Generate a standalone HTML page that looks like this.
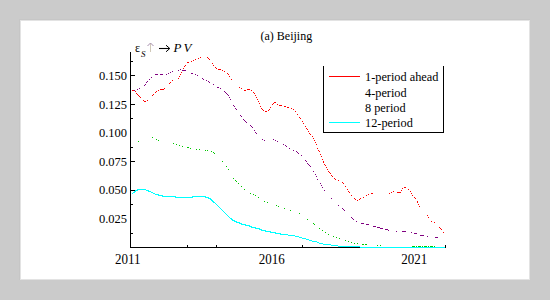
<!DOCTYPE html>
<html><head><meta charset="utf-8"><style>
html,body{margin:0;padding:0;width:550px;height:300px;overflow:hidden;background:#cbcbcb;}
body{position:relative;font-family:"Liberation Serif",serif;}
</style></head><body>
<svg width="550" height="300" viewBox="0 0 550 300" style="position:absolute;left:0;top:0">
<rect x="0" y="0" width="550" height="300" fill="#cbcbcb"/>
<g shape-rendering="crispEdges"><rect x="19" y="19" width="511" height="261" fill="#c6c6c6"/><rect x="20" y="20" width="510" height="260" fill="#e3e3e3"/><rect x="21" y="21" width="508" height="258" fill="#ffffff"/></g>
<g shape-rendering="crispEdges" fill="#000">
<rect x="130" y="52" width="1" height="196"/><rect x="130" y="247" width="316" height="1"/>
<rect x="130" y="75" width="5" height="1"/>
<rect x="130" y="104" width="5" height="1"/>
<rect x="130" y="161" width="5" height="1"/>
<rect x="130" y="190" width="5" height="1"/>
<rect x="130" y="61" width="3" height="1"/>
<rect x="130" y="118" width="3" height="1"/>
<rect x="130" y="147" width="3" height="1"/>
<rect x="130" y="204" width="3" height="1"/>
<rect x="130" y="233" width="3" height="1"/>
<rect x="187" y="245" width="1" height="2"/>
<rect x="216" y="245" width="1" height="2"/>
<rect x="302" y="245" width="1" height="2"/>
<rect x="445" y="245" width="1" height="3"/>
</g>
<g fill="#00ffff" shape-rendering="crispEdges"><rect x="132" y="193" width="1" height="1"/><rect x="133" y="192" width="1" height="1"/><rect x="134" y="191" width="1" height="1"/><rect x="134" y="192" width="1" height="1"/><rect x="135" y="190" width="1" height="1"/><rect x="135" y="191" width="1" height="1"/><rect x="136" y="190" width="1" height="1"/><rect x="137" y="189" width="1" height="1"/><rect x="137" y="190" width="1" height="1"/><rect x="138" y="189" width="1" height="1"/><rect x="139" y="189" width="1" height="1"/><rect x="140" y="189" width="1" height="1"/><rect x="141" y="189" width="1" height="1"/><rect x="142" y="189" width="1" height="1"/><rect x="143" y="189" width="1" height="1"/><rect x="144" y="189" width="1" height="1"/><rect x="145" y="189" width="1" height="1"/><rect x="146" y="190" width="1" height="1"/><rect x="147" y="190" width="1" height="1"/><rect x="148" y="190" width="1" height="1"/><rect x="148" y="191" width="1" height="1"/><rect x="149" y="191" width="1" height="1"/><rect x="150" y="191" width="1" height="1"/><rect x="151" y="192" width="1" height="1"/><rect x="152" y="192" width="1" height="1"/><rect x="153" y="193" width="1" height="1"/><rect x="154" y="193" width="1" height="1"/><rect x="155" y="194" width="1" height="1"/><rect x="156" y="194" width="1" height="1"/><rect x="157" y="194" width="1" height="1"/><rect x="158" y="194" width="1" height="1"/><rect x="158" y="195" width="1" height="1"/><rect x="159" y="195" width="1" height="1"/><rect x="160" y="195" width="1" height="1"/><rect x="161" y="195" width="1" height="1"/><rect x="162" y="195" width="1" height="1"/><rect x="162" y="196" width="1" height="1"/><rect x="163" y="196" width="1" height="1"/><rect x="164" y="196" width="1" height="1"/><rect x="165" y="196" width="1" height="1"/><rect x="166" y="196" width="1" height="1"/><rect x="167" y="196" width="1" height="1"/><rect x="168" y="196" width="1" height="1"/><rect x="169" y="196" width="1" height="1"/><rect x="170" y="196" width="1" height="1"/><rect x="171" y="196" width="1" height="1"/><rect x="172" y="196" width="1" height="1"/><rect x="173" y="196" width="1" height="1"/><rect x="174" y="196" width="1" height="1"/><rect x="175" y="196" width="1" height="1"/><rect x="175" y="197" width="1" height="1"/><rect x="176" y="197" width="1" height="1"/><rect x="177" y="197" width="1" height="1"/><rect x="178" y="197" width="1" height="1"/><rect x="179" y="197" width="1" height="1"/><rect x="180" y="197" width="1" height="1"/><rect x="181" y="197" width="1" height="1"/><rect x="182" y="197" width="1" height="1"/><rect x="183" y="197" width="1" height="1"/><rect x="184" y="197" width="1" height="1"/><rect x="185" y="197" width="1" height="1"/><rect x="186" y="197" width="1" height="1"/><rect x="187" y="197" width="1" height="1"/><rect x="188" y="197" width="1" height="1"/><rect x="189" y="197" width="1" height="1"/><rect x="190" y="197" width="1" height="1"/><rect x="191" y="197" width="1" height="1"/><rect x="192" y="196" width="1" height="1"/><rect x="192" y="197" width="1" height="1"/><rect x="193" y="196" width="1" height="1"/><rect x="194" y="196" width="1" height="1"/><rect x="195" y="196" width="1" height="1"/><rect x="196" y="196" width="1" height="1"/><rect x="197" y="196" width="1" height="1"/><rect x="198" y="196" width="1" height="1"/><rect x="199" y="196" width="1" height="1"/><rect x="200" y="196" width="1" height="1"/><rect x="201" y="196" width="1" height="1"/><rect x="202" y="196" width="1" height="1"/><rect x="203" y="196" width="1" height="1"/><rect x="204" y="196" width="1" height="1"/><rect x="205" y="196" width="1" height="1"/><rect x="205" y="197" width="1" height="1"/><rect x="206" y="197" width="1" height="1"/><rect x="207" y="197" width="1" height="1"/><rect x="208" y="197" width="1" height="1"/><rect x="208" y="198" width="1" height="1"/><rect x="209" y="198" width="1" height="1"/><rect x="210" y="198" width="1" height="1"/><rect x="210" y="199" width="1" height="1"/><rect x="211" y="199" width="1" height="1"/><rect x="211" y="200" width="1" height="1"/><rect x="212" y="200" width="1" height="1"/><rect x="212" y="201" width="1" height="1"/><rect x="213" y="201" width="1" height="1"/><rect x="213" y="202" width="1" height="1"/><rect x="214" y="202" width="1" height="1"/><rect x="215" y="203" width="1" height="1"/><rect x="216" y="204" width="1" height="1"/><rect x="217" y="205" width="1" height="1"/><rect x="218" y="206" width="1" height="1"/><rect x="219" y="207" width="1" height="1"/><rect x="220" y="208" width="1" height="1"/><rect x="221" y="209" width="1" height="1"/><rect x="222" y="210" width="1" height="1"/><rect x="223" y="211" width="1" height="1"/><rect x="224" y="212" width="1" height="1"/><rect x="225" y="213" width="1" height="1"/><rect x="226" y="214" width="1" height="1"/><rect x="227" y="215" width="1" height="1"/><rect x="228" y="216" width="1" height="1"/><rect x="229" y="217" width="1" height="1"/><rect x="230" y="218" width="1" height="1"/><rect x="231" y="218" width="1" height="1"/><rect x="231" y="219" width="1" height="1"/><rect x="232" y="219" width="1" height="1"/><rect x="232" y="220" width="1" height="1"/><rect x="233" y="220" width="1" height="1"/><rect x="234" y="220" width="1" height="1"/><rect x="234" y="221" width="1" height="1"/><rect x="235" y="221" width="1" height="1"/><rect x="236" y="221" width="1" height="1"/><rect x="236" y="222" width="1" height="1"/><rect x="237" y="222" width="1" height="1"/><rect x="238" y="222" width="1" height="1"/><rect x="239" y="222" width="1" height="1"/><rect x="239" y="223" width="1" height="1"/><rect x="240" y="223" width="1" height="1"/><rect x="241" y="223" width="1" height="1"/><rect x="241" y="224" width="1" height="1"/><rect x="242" y="224" width="1" height="1"/><rect x="243" y="224" width="1" height="1"/><rect x="244" y="224" width="1" height="1"/><rect x="245" y="224" width="1" height="1"/><rect x="245" y="225" width="1" height="1"/><rect x="246" y="225" width="1" height="1"/><rect x="247" y="225" width="1" height="1"/><rect x="248" y="225" width="1" height="1"/><rect x="249" y="225" width="1" height="1"/><rect x="249" y="226" width="1" height="1"/><rect x="250" y="226" width="1" height="1"/><rect x="251" y="226" width="1" height="1"/><rect x="251" y="227" width="1" height="1"/><rect x="252" y="227" width="1" height="1"/><rect x="253" y="227" width="1" height="1"/><rect x="254" y="227" width="1" height="1"/><rect x="255" y="227" width="1" height="1"/><rect x="255" y="228" width="1" height="1"/><rect x="256" y="228" width="1" height="1"/><rect x="257" y="228" width="1" height="1"/><rect x="258" y="228" width="1" height="1"/><rect x="259" y="228" width="1" height="1"/><rect x="259" y="229" width="1" height="1"/><rect x="260" y="229" width="1" height="1"/><rect x="261" y="229" width="1" height="1"/><rect x="261" y="230" width="1" height="1"/><rect x="262" y="230" width="1" height="1"/><rect x="263" y="230" width="1" height="1"/><rect x="264" y="230" width="1" height="1"/><rect x="265" y="230" width="1" height="1"/><rect x="265" y="231" width="1" height="1"/><rect x="266" y="231" width="1" height="1"/><rect x="267" y="231" width="1" height="1"/><rect x="268" y="231" width="1" height="1"/><rect x="269" y="231" width="1" height="1"/><rect x="270" y="231" width="1" height="1"/><rect x="270" y="232" width="1" height="1"/><rect x="271" y="232" width="1" height="1"/><rect x="272" y="232" width="1" height="1"/><rect x="273" y="232" width="1" height="1"/><rect x="274" y="232" width="1" height="1"/><rect x="275" y="232" width="1" height="1"/><rect x="275" y="233" width="1" height="1"/><rect x="276" y="233" width="1" height="1"/><rect x="277" y="233" width="1" height="1"/><rect x="278" y="233" width="1" height="1"/><rect x="279" y="233" width="1" height="1"/><rect x="280" y="233" width="1" height="1"/><rect x="280" y="234" width="1" height="1"/><rect x="281" y="234" width="1" height="1"/><rect x="282" y="234" width="1" height="1"/><rect x="283" y="234" width="1" height="1"/><rect x="283" y="234" width="5" height="1"/><rect x="288" y="235" width="7" height="1"/><rect x="295" y="236" width="4" height="1"/><rect x="299" y="237" width="3" height="1"/><rect x="302" y="238" width="4" height="1"/><rect x="306" y="239" width="3" height="1"/><rect x="309" y="240" width="3" height="1"/><rect x="312" y="241" width="5" height="1"/><rect x="317" y="242" width="2" height="1"/><rect x="319" y="243" width="4" height="1"/><rect x="323" y="244" width="8" height="1"/><rect x="331" y="245" width="7" height="1"/><rect x="338" y="246" width="22" height="1"/><rect x="360" y="247" width="85" height="1"/></g>
<g fill="#00c800" shape-rendering="crispEdges"><rect x="138" y="141" width="1" height="1"/><rect x="152" y="137" width="1" height="1"/><rect x="156" y="139" width="1" height="1"/><rect x="158" y="140" width="1" height="1"/><rect x="173" y="143" width="1" height="1"/><rect x="176" y="144" width="1" height="1"/><rect x="179" y="145" width="1" height="1"/><rect x="182" y="146" width="1" height="1"/><rect x="187" y="147" width="1" height="1"/><rect x="188" y="147" width="1" height="1"/><rect x="190" y="148" width="1" height="1"/><rect x="196" y="149" width="1" height="1"/><rect x="199" y="149" width="1" height="1"/><rect x="205" y="150" width="1" height="1"/><rect x="207" y="150" width="1" height="1"/><rect x="211" y="151" width="1" height="1"/><rect x="213" y="152" width="1" height="1"/><rect x="214" y="153" width="1" height="1"/><rect x="222" y="161" width="1" height="1"/><rect x="226" y="166" width="1" height="1"/><rect x="228" y="169" width="1" height="1"/><rect x="233" y="178" width="1" height="1"/><rect x="235" y="180" width="1" height="1"/><rect x="236" y="181" width="1" height="1"/><rect x="238" y="183" width="1" height="1"/><rect x="241" y="186" width="1" height="1"/><rect x="244" y="189" width="1" height="1"/><rect x="250" y="193" width="1" height="1"/><rect x="253" y="194" width="1" height="1"/><rect x="255" y="195" width="1" height="1"/><rect x="258" y="197" width="1" height="1"/><rect x="264" y="201" width="1" height="1"/><rect x="267" y="202" width="1" height="1"/><rect x="276" y="205" width="1" height="1"/><rect x="278" y="206" width="1" height="1"/><rect x="284" y="208" width="1" height="1"/><rect x="290" y="210" width="1" height="1"/><rect x="299" y="213" width="1" height="1"/><rect x="307" y="219" width="1" height="1"/><rect x="313" y="223" width="1" height="1"/><rect x="314" y="224" width="1" height="1"/><rect x="319" y="228" width="1" height="1"/><rect x="322" y="230" width="1" height="1"/><rect x="325" y="232" width="1" height="1"/><rect x="328" y="234" width="1" height="1"/><rect x="333" y="236" width="1" height="1"/><rect x="336" y="237" width="1" height="1"/><rect x="339" y="238" width="1" height="1"/><rect x="345" y="240" width="1" height="1"/><rect x="348" y="241" width="1" height="1"/><rect x="351" y="242" width="1" height="1"/><rect x="354" y="243" width="1" height="1"/><rect x="357" y="243" width="1" height="1"/><rect x="362" y="244" width="1" height="1"/><rect x="363" y="244" width="1" height="1"/><rect x="365" y="244" width="1" height="1"/><rect x="366" y="244" width="1" height="1"/><rect x="377" y="245" width="1" height="1"/><rect x="380" y="245" width="1" height="1"/><rect x="412" y="246" width="1" height="1"/><rect x="413" y="246" width="1" height="1"/><rect x="414" y="246" width="1" height="1"/><rect x="416" y="246" width="1" height="1"/><rect x="418" y="246" width="1" height="1"/><rect x="419" y="246" width="1" height="1"/><rect x="420" y="246" width="1" height="1"/><rect x="422" y="246" width="1" height="1"/><rect x="424" y="246" width="1" height="1"/><rect x="425" y="246" width="1" height="1"/><rect x="426" y="246" width="1" height="1"/><rect x="428" y="246" width="1" height="1"/><rect x="430" y="246" width="1" height="1"/><rect x="431" y="246" width="1" height="1"/><rect x="432" y="246" width="1" height="1"/><rect x="434" y="246" width="1" height="1"/></g>
<g fill="#800080" shape-rendering="crispEdges"><rect x="134" y="90" width="1" height="1"/><rect x="137" y="89" width="1" height="1"/><rect x="139" y="88" width="1" height="1"/><rect x="144" y="85" width="1" height="1"/><rect x="145" y="84" width="1" height="1"/><rect x="146" y="82" width="1" height="1"/><rect x="147" y="81" width="1" height="1"/><rect x="149" y="79" width="1" height="1"/><rect x="151" y="77" width="1" height="1"/><rect x="155" y="74" width="1" height="1"/><rect x="156" y="74" width="1" height="1"/><rect x="157" y="74" width="1" height="1"/><rect x="160" y="74" width="1" height="1"/><rect x="161" y="74" width="1" height="1"/><rect x="162" y="74" width="1" height="1"/><rect x="166" y="74" width="1" height="1"/><rect x="168" y="73" width="1" height="1"/><rect x="170" y="72" width="1" height="1"/><rect x="172" y="71" width="1" height="1"/><rect x="178" y="70" width="1" height="1"/><rect x="180" y="69" width="1" height="1"/><rect x="182" y="70" width="1" height="1"/><rect x="183" y="70" width="1" height="1"/><rect x="184" y="70" width="1" height="1"/><rect x="185" y="70" width="1" height="1"/><rect x="191" y="73" width="1" height="1"/><rect x="192" y="73" width="1" height="1"/><rect x="195" y="74" width="1" height="1"/><rect x="197" y="75" width="1" height="1"/><rect x="202" y="78" width="1" height="1"/><rect x="203" y="79" width="1" height="1"/><rect x="206" y="80" width="1" height="1"/><rect x="208" y="81" width="1" height="1"/><rect x="209" y="82" width="1" height="1"/><rect x="213" y="84" width="1" height="1"/><rect x="217" y="87" width="1" height="1"/><rect x="218" y="87" width="1" height="1"/><rect x="220" y="88" width="1" height="1"/><rect x="224" y="91" width="1" height="1"/><rect x="225" y="92" width="1" height="1"/><rect x="226" y="93" width="1" height="1"/><rect x="227" y="94" width="1" height="1"/><rect x="228" y="95" width="1" height="1"/><rect x="229" y="97" width="1" height="1"/><rect x="230" y="99" width="1" height="1"/><rect x="233" y="105" width="1" height="1"/><rect x="234" y="106" width="1" height="1"/><rect x="235" y="108" width="1" height="1"/><rect x="236" y="109" width="1" height="1"/><rect x="240" y="115" width="1" height="1"/><rect x="241" y="116" width="1" height="1"/><rect x="243" y="119" width="1" height="1"/><rect x="244" y="120" width="1" height="1"/><rect x="245" y="121" width="1" height="1"/><rect x="246" y="122" width="1" height="1"/><rect x="250" y="125" width="1" height="1"/><rect x="251" y="126" width="1" height="1"/><rect x="252" y="127" width="1" height="1"/><rect x="254" y="130" width="1" height="1"/><rect x="255" y="132" width="1" height="1"/><rect x="256" y="133" width="1" height="1"/><rect x="262" y="139" width="1" height="1"/><rect x="264" y="140" width="1" height="1"/><rect x="273" y="139" width="1" height="1"/><rect x="275" y="140" width="1" height="1"/><rect x="277" y="141" width="1" height="1"/><rect x="283" y="144" width="1" height="1"/><rect x="285" y="145" width="1" height="1"/><rect x="286" y="146" width="1" height="1"/><rect x="289" y="148" width="1" height="1"/><rect x="293" y="150" width="1" height="1"/><rect x="296" y="151" width="1" height="1"/><rect x="297" y="152" width="1" height="1"/><rect x="298" y="153" width="1" height="1"/><rect x="301" y="155" width="1" height="1"/><rect x="305" y="160" width="1" height="1"/><rect x="306" y="161" width="1" height="1"/><rect x="307" y="163" width="1" height="1"/><rect x="308" y="164" width="1" height="1"/><rect x="309" y="165" width="1" height="1"/><rect x="310" y="166" width="1" height="1"/><rect x="313" y="171" width="1" height="1"/><rect x="315" y="174" width="1" height="1"/><rect x="316" y="176" width="1" height="1"/><rect x="317" y="179" width="1" height="1"/><rect x="320" y="183" width="1" height="1"/><rect x="321" y="185" width="1" height="1"/><rect x="322" y="187" width="1" height="1"/><rect x="324" y="190" width="1" height="1"/><rect x="331" y="198" width="1" height="1"/><rect x="338" y="205" width="1" height="1"/><rect x="342" y="208" width="1" height="1"/><rect x="343" y="209" width="1" height="1"/><rect x="344" y="210" width="1" height="1"/><rect x="351" y="217" width="1" height="1"/><rect x="352" y="218" width="1" height="1"/><rect x="353" y="219" width="1" height="1"/><rect x="356" y="221" width="1" height="1"/><rect x="361" y="223" width="1" height="1"/><rect x="362" y="223" width="1" height="1"/><rect x="363" y="223" width="1" height="1"/><rect x="366" y="224" width="1" height="1"/><rect x="367" y="224" width="1" height="1"/><rect x="368" y="224" width="1" height="1"/><rect x="373" y="226" width="1" height="1"/><rect x="374" y="226" width="1" height="1"/><rect x="375" y="226" width="1" height="1"/><rect x="377" y="227" width="1" height="1"/><rect x="378" y="227" width="1" height="1"/><rect x="379" y="227" width="1" height="1"/><rect x="380" y="228" width="1" height="1"/><rect x="381" y="228" width="1" height="1"/><rect x="382" y="228" width="1" height="1"/><rect x="385" y="229" width="1" height="1"/><rect x="386" y="229" width="1" height="1"/><rect x="387" y="229" width="1" height="1"/><rect x="388" y="230" width="1" height="1"/><rect x="396" y="231" width="1" height="1"/><rect x="402" y="231" width="1" height="1"/><rect x="403" y="231" width="1" height="1"/><rect x="404" y="231" width="1" height="1"/><rect x="405" y="231" width="1" height="1"/><rect x="411" y="232" width="1" height="1"/><rect x="414" y="233" width="1" height="1"/><rect x="415" y="233" width="1" height="1"/><rect x="416" y="233" width="1" height="1"/><rect x="420" y="235" width="1" height="1"/><rect x="421" y="235" width="1" height="1"/><rect x="422" y="235" width="1" height="1"/><rect x="423" y="235" width="1" height="1"/><rect x="427" y="236" width="1" height="1"/><rect x="435" y="237" width="1" height="1"/><rect x="436" y="237" width="1" height="1"/><rect x="437" y="237" width="1" height="1"/></g>
<g fill="#ff0000" shape-rendering="crispEdges"><rect x="132" y="90" width="1" height="1"/><rect x="133" y="90" width="1" height="1"/><rect x="135" y="91" width="1" height="1"/><rect x="136" y="93" width="1" height="1"/><rect x="137" y="94" width="1" height="1"/><rect x="138" y="95" width="1" height="1"/><rect x="139" y="96" width="1" height="1"/><rect x="140" y="97" width="1" height="1"/><rect x="143" y="100" width="1" height="1"/><rect x="144" y="101" width="1" height="1"/><rect x="145" y="101" width="1" height="1"/><rect x="147" y="100" width="1" height="1"/><rect x="152" y="95" width="1" height="1"/><rect x="153" y="94" width="1" height="1"/><rect x="155" y="92" width="1" height="1"/><rect x="156" y="91" width="1" height="1"/><rect x="158" y="90" width="1" height="1"/><rect x="160" y="89" width="1" height="1"/><rect x="161" y="89" width="1" height="1"/><rect x="162" y="89" width="1" height="1"/><rect x="163" y="89" width="1" height="1"/><rect x="164" y="88" width="1" height="1"/><rect x="169" y="83" width="1" height="1"/><rect x="170" y="82" width="1" height="1"/><rect x="172" y="80" width="1" height="1"/><rect x="178" y="78" width="1" height="1"/><rect x="179" y="76" width="1" height="1"/><rect x="180" y="74" width="1" height="1"/><rect x="181" y="72" width="1" height="1"/><rect x="183" y="68" width="1" height="1"/><rect x="184" y="66" width="1" height="1"/><rect x="185" y="65" width="1" height="1"/><rect x="187" y="62" width="1" height="1"/><rect x="188" y="62" width="1" height="1"/><rect x="191" y="61" width="1" height="1"/><rect x="193" y="60" width="1" height="1"/><rect x="195" y="59" width="1" height="1"/><rect x="198" y="58" width="1" height="1"/><rect x="200" y="57" width="1" height="1"/><rect x="207" y="57" width="1" height="1"/><rect x="208" y="58" width="1" height="1"/><rect x="209" y="59" width="1" height="1"/><rect x="212" y="63" width="1" height="1"/><rect x="213" y="65" width="1" height="1"/><rect x="215" y="67" width="1" height="1"/><rect x="216" y="68" width="1" height="1"/><rect x="218" y="69" width="1" height="1"/><rect x="219" y="69" width="1" height="1"/><rect x="220" y="69" width="1" height="1"/><rect x="222" y="70" width="1" height="1"/><rect x="224" y="71" width="1" height="1"/><rect x="227" y="73" width="1" height="1"/><rect x="228" y="74" width="1" height="1"/><rect x="229" y="76" width="1" height="1"/><rect x="231" y="79" width="1" height="1"/><rect x="239" y="87" width="1" height="1"/><rect x="241" y="88" width="1" height="1"/><rect x="244" y="90" width="1" height="1"/><rect x="245" y="90" width="1" height="1"/><rect x="247" y="89" width="1" height="1"/><rect x="248" y="89" width="1" height="1"/><rect x="249" y="89" width="1" height="1"/><rect x="251" y="90" width="1" height="1"/><rect x="253" y="92" width="1" height="1"/><rect x="254" y="93" width="1" height="1"/><rect x="255" y="95" width="1" height="1"/><rect x="256" y="97" width="1" height="1"/><rect x="257" y="99" width="1" height="1"/><rect x="258" y="101" width="1" height="1"/><rect x="259" y="103" width="1" height="1"/><rect x="260" y="106" width="1" height="1"/><rect x="261" y="108" width="1" height="1"/><rect x="262" y="109" width="1" height="1"/><rect x="263" y="110" width="1" height="1"/><rect x="265" y="111" width="1" height="1"/><rect x="266" y="111" width="1" height="1"/><rect x="268" y="110" width="1" height="1"/><rect x="269" y="109" width="1" height="1"/><rect x="270" y="107" width="1" height="1"/><rect x="272" y="104" width="1" height="1"/><rect x="273" y="103" width="1" height="1"/><rect x="274" y="102" width="1" height="1"/><rect x="275" y="102" width="1" height="1"/><rect x="277" y="104" width="1" height="1"/><rect x="279" y="105" width="1" height="1"/><rect x="280" y="105" width="1" height="1"/><rect x="281" y="105" width="1" height="1"/><rect x="284" y="106" width="1" height="1"/><rect x="285" y="106" width="1" height="1"/><rect x="287" y="107" width="1" height="1"/><rect x="288" y="107" width="1" height="1"/><rect x="291" y="108" width="1" height="1"/><rect x="293" y="109" width="1" height="1"/><rect x="295" y="111" width="1" height="1"/><rect x="297" y="114" width="1" height="1"/><rect x="299" y="117" width="1" height="1"/><rect x="300" y="118" width="1" height="1"/><rect x="302" y="121" width="1" height="1"/><rect x="303" y="123" width="1" height="1"/><rect x="305" y="126" width="1" height="1"/><rect x="306" y="128" width="1" height="1"/><rect x="307" y="129" width="1" height="1"/><rect x="308" y="131" width="1" height="1"/><rect x="309" y="133" width="1" height="1"/><rect x="310" y="134" width="1" height="1"/><rect x="312" y="136" width="1" height="1"/><rect x="313" y="138" width="1" height="1"/><rect x="314" y="140" width="1" height="1"/><rect x="315" y="142" width="1" height="1"/><rect x="316" y="144" width="1" height="1"/><rect x="317" y="148" width="1" height="1"/><rect x="318" y="150" width="1" height="1"/><rect x="319" y="151" width="1" height="1"/><rect x="320" y="154" width="1" height="1"/><rect x="321" y="156" width="1" height="1"/><rect x="322" y="159" width="1" height="1"/><rect x="323" y="161" width="1" height="1"/><rect x="323" y="162" width="1" height="1"/><rect x="324" y="164" width="1" height="1"/><rect x="325" y="165" width="1" height="1"/><rect x="326" y="167" width="1" height="1"/><rect x="327" y="169" width="1" height="1"/><rect x="328" y="171" width="1" height="1"/><rect x="329" y="172" width="1" height="1"/><rect x="330" y="173" width="1" height="1"/><rect x="331" y="175" width="1" height="1"/><rect x="332" y="176" width="1" height="1"/><rect x="334" y="178" width="1" height="1"/><rect x="335" y="179" width="1" height="1"/><rect x="338" y="180" width="1" height="1"/><rect x="342" y="182" width="1" height="1"/><rect x="343" y="183" width="1" height="1"/><rect x="345" y="186" width="1" height="1"/><rect x="347" y="189" width="1" height="1"/><rect x="348" y="191" width="1" height="1"/><rect x="349" y="192" width="1" height="1"/><rect x="351" y="195" width="1" height="1"/><rect x="354" y="198" width="1" height="1"/><rect x="355" y="199" width="1" height="1"/><rect x="357" y="200" width="1" height="1"/><rect x="359" y="199" width="1" height="1"/><rect x="360" y="198" width="1" height="1"/><rect x="363" y="197" width="1" height="1"/><rect x="366" y="195" width="1" height="1"/><rect x="368" y="194" width="1" height="1"/><rect x="371" y="193" width="1" height="1"/><rect x="372" y="193" width="1" height="1"/><rect x="389" y="193" width="1" height="1"/><rect x="391" y="192" width="1" height="1"/><rect x="393" y="191" width="1" height="1"/><rect x="397" y="192" width="1" height="1"/><rect x="398" y="192" width="1" height="1"/><rect x="399" y="192" width="1" height="1"/><rect x="400" y="192" width="1" height="1"/><rect x="401" y="190" width="1" height="1"/><rect x="402" y="188" width="1" height="1"/><rect x="404" y="187" width="1" height="1"/><rect x="405" y="187" width="1" height="1"/><rect x="408" y="189" width="1" height="1"/><rect x="410" y="191" width="1" height="1"/><rect x="411" y="193" width="1" height="1"/><rect x="412" y="195" width="1" height="1"/><rect x="414" y="197" width="1" height="1"/><rect x="415" y="198" width="1" height="1"/><rect x="417" y="201" width="1" height="1"/><rect x="417" y="202" width="1" height="1"/><rect x="418" y="204" width="1" height="1"/><rect x="419" y="206" width="1" height="1"/><rect x="427" y="215" width="1" height="1"/><rect x="428" y="217" width="1" height="1"/><rect x="431" y="221" width="1" height="1"/><rect x="434" y="222" width="1" height="1"/><rect x="439" y="227" width="1" height="1"/><rect x="440" y="228" width="1" height="1"/><rect x="441" y="229" width="1" height="1"/><rect x="443" y="232" width="1" height="1"/></g>
<g shape-rendering="crispEdges">
<rect x="323" y="66" width="1" height="67" fill="#000"/><rect x="443" y="66" width="1" height="67" fill="#000"/><rect x="323" y="132" width="121" height="1" fill="#000"/>
<rect x="329" y="76" width="31" height="1" fill="#ff0000"/>
<rect x="329" y="122" width="31" height="1" fill="#00ffff"/>
</g>
<text x="260.5" y="39.5" style="font-family:'Liberation Serif',serif" font-size="12">(a) Beijing</text>
<text x="127" y="79.5" style="font-family:'Liberation Serif',serif" font-size="12.5" text-anchor="end">0.150</text>
<text x="127" y="108.5" style="font-family:'Liberation Serif',serif" font-size="12.5" text-anchor="end">0.125</text>
<text x="127" y="137.2" style="font-family:'Liberation Serif',serif" font-size="12.5" text-anchor="end">0.100</text>
<text x="127" y="165.5" style="font-family:'Liberation Serif',serif" font-size="12.5" text-anchor="end">0.075</text>
<text x="127" y="194.3" style="font-family:'Liberation Serif',serif" font-size="12.5" text-anchor="end">0.050</text>
<text x="127" y="223" style="font-family:'Liberation Serif',serif" font-size="12.5" text-anchor="end">0.025</text>
<text x="0" y="0" style="font-family:'Liberation Serif',serif" font-size="13" text-anchor="middle" transform="translate(127.7,263.5) scale(1,1.15)">2011</text>
<text x="0" y="0" style="font-family:'Liberation Serif',serif" font-size="13" text-anchor="middle" transform="translate(271.7,263.5) scale(1,1.15)">2016</text>
<text x="0" y="0" style="font-family:'Liberation Serif',serif" font-size="13" text-anchor="middle" transform="translate(414.3,263.5) scale(1,1.15)">2021</text>
<text x="365" y="81" style="font-family:'Liberation Serif',serif" font-size="12.3">1-period ahead</text>
<text x="365" y="96.5" style="font-family:'Liberation Serif',serif" font-size="12.3">4-period</text>
<text x="365" y="111.8" style="font-family:'Liberation Serif',serif" font-size="12.3">8 period</text>
<text x="365" y="127.2" style="font-family:'Liberation Serif',serif" font-size="12.3">12-period</text>
<text x="135" y="52" style="font-family:'Liberation Serif',serif" font-size="12">ε</text>
<text x="141" y="57" style="font-family:'Liberation Serif',serif" font-size="9" font-style="italic">S</text>
<path d="M150.5 52 V43.5" stroke="#d0c8b8" stroke-width="1" fill="none"/>
<path d="M147.5 46 L150.5 43 L153.5 46" stroke="#9a80a0" stroke-width="0.9" fill="none"/>
<path d="M159 48.5 H169.5" stroke="#000" stroke-width="1.1" fill="none"/>
<path d="M166 45.2 L169.8 48.5 L166 51.8" stroke="#000" stroke-width="1" fill="none"/>
<text x="173.5" y="52" style="font-family:'Liberation Serif',serif" font-size="13" font-style="italic">P</text>
<text x="183.5" y="52" style="font-family:'Liberation Serif',serif" font-size="13" font-style="italic">V</text>
</svg>
</body></html>
